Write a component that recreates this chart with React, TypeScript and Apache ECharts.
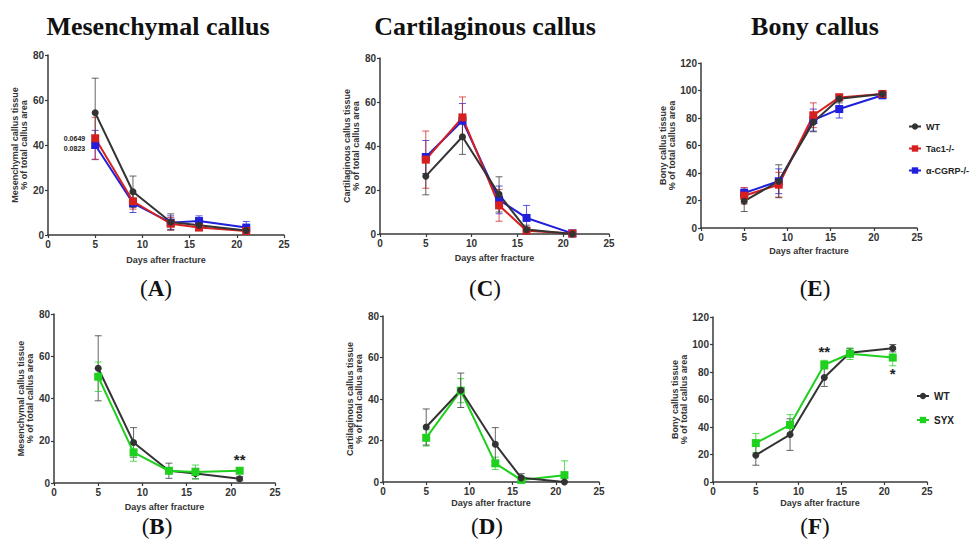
import React, { useEffect, useRef } from "react";
import * as echarts from "echarts";

// ---------- data ----------
const days = [5, 9, 13, 16, 21];

// (A) mesenchymal callus – knockouts
const mesWT = [54.3, 19.2, 5.8, 4.3, 2.0];
const mesWTErr = [15.4, 7.0, 3.6, 1.5, 1.2];
const mesTac1 = [43.0, 15.0, 5.0, 3.3, 1.8];
const mesTac1Err = [9.3, 3.5, 2.8, 1.0, 1.5];
const mesCgrp = [40.0, 14.2, 5.5, 6.2, 3.3];
const mesCgrpErr = [6.5, 4.2, 3.0, 2.3, 2.7];

// (B) mesenchymal callus – SYX
const mesWT2 = [54.3, 19.2, 5.8, 4.5, 2.0];
const mesWT2Err = [15.4, 7.0, 3.6, 2.5, 1.0];
const mesSyx = [50.3, 14.5, 5.8, 5.2, 5.8];
const mesSyxErr = [7.0, 4.2, 1.5, 3.3, 1.0];

// (C) cartilaginous callus – knockouts
const cartWT = [26.3, 44.2, 18.0, 2.0, 0.0];
const cartWTErr = [8.5, 8.0, 8.0, 2.0, 0.3];
const cartTac1 = [33.8, 53.0, 13.0, 1.5, 0.2];
const cartTac1Err = [13.0, 9.3, 7.2, 1.0, 0.3];
const cartCgrp = [35.0, 51.5, 15.5, 7.3, 0.3];
const cartCgrpErr = [7.5, 7.8, 6.3, 5.7, 0.3];

// (D) cartilaginous callus – SYX
const cartWT2 = [26.5, 44.2, 18.2, 2.0, 0.0];
const cartWT2Err = [8.7, 8.3, 8.0, 2.0, 0.3];
const cartSyx = [21.3, 44.0, 9.0, 1.0, 3.3];
const cartSyxErr = [4.0, 5.8, 3.0, 0.8, 6.9];

// (E) bony callus – knockouts
const bonyWT = [19.5, 34.0, 77.0, 94.0, 97.5];
const bonyWTErr = [7.5, 12.0, 7.0, 3.0, 1.5];
const bonyTac1 = [23.5, 31.5, 82.0, 95.0, 97.5];
const bonyTac1Err = [6.0, 9.0, 9.0, 2.5, 1.2];
const bonyCgrp = [25.5, 34.0, 78.5, 86.5, 96.5];
const bonyCgrpErr = [3.5, 9.0, 8.0, 6.5, 2.0];

// (F) bony callus – SYX
const bonyWT2 = [19.5, 34.5, 76.0, 94.0, 97.3];
const bonyWT2Err = [7.3, 11.5, 6.5, 3.0, 2.7];
const bonySyx = [28.3, 41.5, 85.3, 93.3, 90.5];
const bonySyxErr = [7.0, 7.5, 3.2, 4.2, 6.0];

// texts
const columnTitles = ["Mesenchymal callus", "Cartilaginous callus", "Bony callus"];
const panelLetters = ["A", "C", "E", "B", "D", "F"];
const yNames = [
  "Mesenchymal callus tissue\n% of total callus area",
  "Cartilaginous callus tissue\n% of total callus area",
  "Bony callus tissue\n% of total callus area",
];
const xName = "Days after fracture";
const pTac1 = "0.0649";
const pCgrp = "0.0823";
const sigTwo = "**";
const sigOne = "*";
const legendKO = ["WT", "Tac1-/-", "α-CGRP-/-"];
const legendSYX = ["WT", "SYX"];

// ---------- styles ----------
const C_WT = "#333333";
const C_TAC = "#d61f1f";
const C_CGRP = "#1f1fdc";
const C_SYX = "#1fd01f";
const SANS = '"Liberation Sans", Arial, sans-serif';
const SERIF = '"Liberation Serif", "Times New Roman", serif';

type Note = { index: number; text: string; position: string; distance?: number; fontSize?: number; offset?: number[] };
type S = { name: string; values: number[]; err: number[]; color: string; symbol: string; notes?: Note[] };

const panels: {
  grid: any; yMax: number; yName: string; yGap: number; xGap: number; series: S[];
}[] = [
  {
    grid: { left: 48, top: 55, width: 236, height: 180 }, yMax: 80, yName: yNames[0], yGap: 18, xGap: 20,
    series: [
      { name: legendKO[2], values: mesCgrp, err: mesCgrpErr, color: C_CGRP, symbol: "rect",
        notes: [{ index: 0, text: pCgrp, position: "left", distance: 6, fontSize: 7, offset: [0, 3] }] },
      { name: legendKO[1], values: mesTac1, err: mesTac1Err, color: C_TAC, symbol: "rect",
        notes: [{ index: 0, text: pTac1, position: "left", distance: 6, fontSize: 7 }] },
      { name: legendKO[0], values: mesWT, err: mesWTErr, color: C_WT, symbol: "circle" },
    ],
  },
  {
    grid: { left: 380, top: 58, width: 229, height: 176 }, yMax: 80, yName: yNames[1], yGap: 20, xGap: 19,
    series: [
      { name: legendKO[2], values: cartCgrp, err: cartCgrpErr, color: C_CGRP, symbol: "rect" },
      { name: legendKO[1], values: cartTac1, err: cartTac1Err, color: C_TAC, symbol: "rect" },
      { name: legendKO[0], values: cartWT, err: cartWTErr, color: C_WT, symbol: "circle" },
    ],
  },
  {
    grid: { left: 701, top: 63, width: 216, height: 165 }, yMax: 120, yName: yNames[2], yGap: 23, xGap: 18,
    series: [
      { name: legendKO[2], values: bonyCgrp, err: bonyCgrpErr, color: C_CGRP, symbol: "rect" },
      { name: legendKO[1], values: bonyTac1, err: bonyTac1Err, color: C_TAC, symbol: "rect" },
      { name: legendKO[0], values: bonyWT, err: bonyWTErr, color: C_WT, symbol: "circle" },
    ],
  },
  {
    grid: { left: 54, top: 314, width: 221, height: 169 }, yMax: 80, yName: yNames[0], yGap: 19, xGap: 19,
    series: [
      { name: legendSYX[0], values: mesWT2, err: mesWT2Err, color: C_WT, symbol: "circle" },
      { name: legendSYX[1], values: mesSyx, err: mesSyxErr, color: C_SYX, symbol: "rect",
        notes: [{ index: 4, text: sigTwo, position: "top", distance: 0, fontSize: 15 }] },
    ],
  },
  {
    grid: { left: 383, top: 316, width: 216, height: 166 }, yMax: 80, yName: yNames[1], yGap: 19, xGap: 16,
    series: [
      { name: legendSYX[1], values: cartSyx, err: cartSyxErr, color: C_SYX, symbol: "rect" },
      { name: legendSYX[0], values: cartWT2, err: cartWT2Err, color: C_WT, symbol: "circle" },
    ],
  },
  {
    grid: { left: 713, top: 317, width: 214, height: 165 }, yMax: 120, yName: yNames[2], yGap: 22, xGap: 16,
    series: [
      { name: legendSYX[0], values: bonyWT2, err: bonyWT2Err, color: C_WT, symbol: "circle" },
      { name: legendSYX[1], values: bonySyx, err: bonySyxErr, color: C_SYX, symbol: "rect",
        notes: [
          { index: 2, text: sigTwo, position: "top", distance: 2, fontSize: 15 },
          { index: 4, text: sigOne, position: "bottom", distance: 4, fontSize: 15 },
        ] },
    ],
  },
];

const titlePos = [
  { x: 158, y: 26 },
  { x: 485, y: 26 },
  { x: 815, y: 26 },
];
const letterPos = [
  { x: 156, y: 288 },
  { x: 485, y: 288 },
  { x: 815, y: 288 },
  { x: 157, y: 526 },
  { x: 487, y: 526 },
  { x: 815, y: 526 },
];

function buildOption() {
  const grid: any[] = [];
  const xAxis: any[] = [];
  const yAxis: any[] = [];
  const series: any[] = [];
  const axisCommon = {
    axisLine: { show: true, lineStyle: { color: "#3a3a3a", width: 1.5 } },
    axisTick: { show: true, length: 3, lineStyle: { color: "#3a3a3a", width: 1.2 } },
    axisLabel: { color: "#333", fontSize: 10, fontWeight: "bold", fontFamily: SANS, margin: 4 },
    splitLine: { show: false },
    nameTextStyle: { color: "#333", fontSize: 9, fontWeight: "bold", fontFamily: SANS, lineHeight: 9 },
  };
  panels.forEach((p, idx) => {
    grid.push({ ...p.grid, containLabel: false });
    xAxis.push({
      ...axisCommon, type: "value", gridIndex: idx, min: 0, max: 25, interval: 5,
      name: xName, nameLocation: "middle", nameGap: p.xGap,
    });
    yAxis.push({
      ...axisCommon, type: "value", gridIndex: idx, min: 0, max: p.yMax, interval: 20,
      name: p.yName, nameLocation: "middle", nameGap: p.yGap, nameRotate: 90,
      nameTextStyle: { ...axisCommon.nameTextStyle, lineHeight: 9 },
    });
    p.series.forEach((s) => {
      series.push({
        type: "custom",
        xAxisIndex: idx, yAxisIndex: idx,
        silent: true,
        z: 2,
        encode: { x: 0, y: [1, 2] },
        data: days.map((d, i) => [d, Math.max(0, s.values[i] - s.err[i]), s.values[i] + s.err[i]]),
        renderItem: (params: any, api: any) => {
          const x = api.value(0);
          const lo = api.coord([x, api.value(1)]);
          const hi = api.coord([x, api.value(2)]);
          const hw = 3.5;
          const st = { stroke: s.color, lineWidth: 1, opacity: 0.75 };
          return {
            type: "group",
            children: [
              { type: "line", shape: { x1: hi[0], y1: hi[1], x2: lo[0], y2: lo[1] }, style: st },
              { type: "line", shape: { x1: hi[0] - hw, y1: hi[1], x2: hi[0] + hw, y2: hi[1] }, style: st },
              { type: "line", shape: { x1: lo[0] - hw, y1: lo[1], x2: lo[0] + hw, y2: lo[1] }, style: st },
            ],
          };
        },
      });
      series.push({
        type: "line",
        name: s.name,
        xAxisIndex: idx, yAxisIndex: idx,
        z: 3,
        symbol: s.symbol,
        symbolSize: s.symbol === "rect" ? 8 : 7,
        itemStyle: { color: s.color },
        lineStyle: { color: s.color, width: 2 },
        data: days.map((d, i) => {
          const item: any = { value: [d, s.values[i]] };
          const note = (s.notes || []).find((n) => n.index === i);
          if (note) {
            item.label = {
              show: true, formatter: note.text, position: note.position, distance: note.distance ?? 5,
              fontSize: note.fontSize ?? 8, fontWeight: "bold", color: "#222", fontFamily: SANS,
              offset: note.offset ?? [0, 0],
            };
          }
          return item;
        }),
      });
    });
  });

  const legendText = { color: "#222", fontSize: 9, fontWeight: "bold", fontFamily: SANS };
  const legend = [
    {
      data: legendKO, orient: "vertical", left: 908, top: 122, itemGap: 13, itemWidth: 12, itemHeight: 8,
      itemStyle: { borderWidth: 0 }, textStyle: legendText, selectedMode: false, padding: 0,
    },
    {
      data: legendSYX, orient: "vertical", left: 916, top: 391, itemGap: 14, itemWidth: 12, itemHeight: 8,
      itemStyle: { borderWidth: 0 }, textStyle: { ...legendText, fontSize: 10 }, selectedMode: false, padding: 0,
    },
  ];

  const graphic: any[] = [];
  columnTitles.forEach((t, i) => {
    graphic.push({
      type: "text", x: titlePos[i].x, y: titlePos[i].y,
      style: {
        text: t, fontFamily: SERIF, fontSize: 26, fontWeight: "bold", fill: "#111",
        align: "center", verticalAlign: "middle",
      },
    });
  });
  panelLetters.forEach((l, i) => {
    graphic.push({
      type: "text", x: letterPos[i].x, y: letterPos[i].y,
      style: {
        text: `{p|(}{b|${l}}{p|)}`,
        align: "center", verticalAlign: "middle",
        rich: {
          p: { fontFamily: SERIF, fontSize: 23, fill: "#111", color: "#111" },
          b: { fontFamily: SERIF, fontSize: 23, fontWeight: "bold", fill: "#111", color: "#111" },
        },
      },
    });
  });

  return {
    animation: false,
    backgroundColor: "#ffffff",
    grid, xAxis, yAxis, series, legend, graphic,
  };
}

export default function App() {
  const ref = useRef<HTMLDivElement>(null);
  useEffect(() => {
    if (!ref.current) return;
    const chart = echarts.init(ref.current, undefined, { renderer: "svg" });
    chart.setOption(buildOption() as any);
    return () => chart.dispose();
  }, []);
  return (
    <div
      ref={ref}
      style={{ position: "absolute", left: 0, top: 0, width: 971, height: 549, background: "#fff" }}
    />
  );
}
